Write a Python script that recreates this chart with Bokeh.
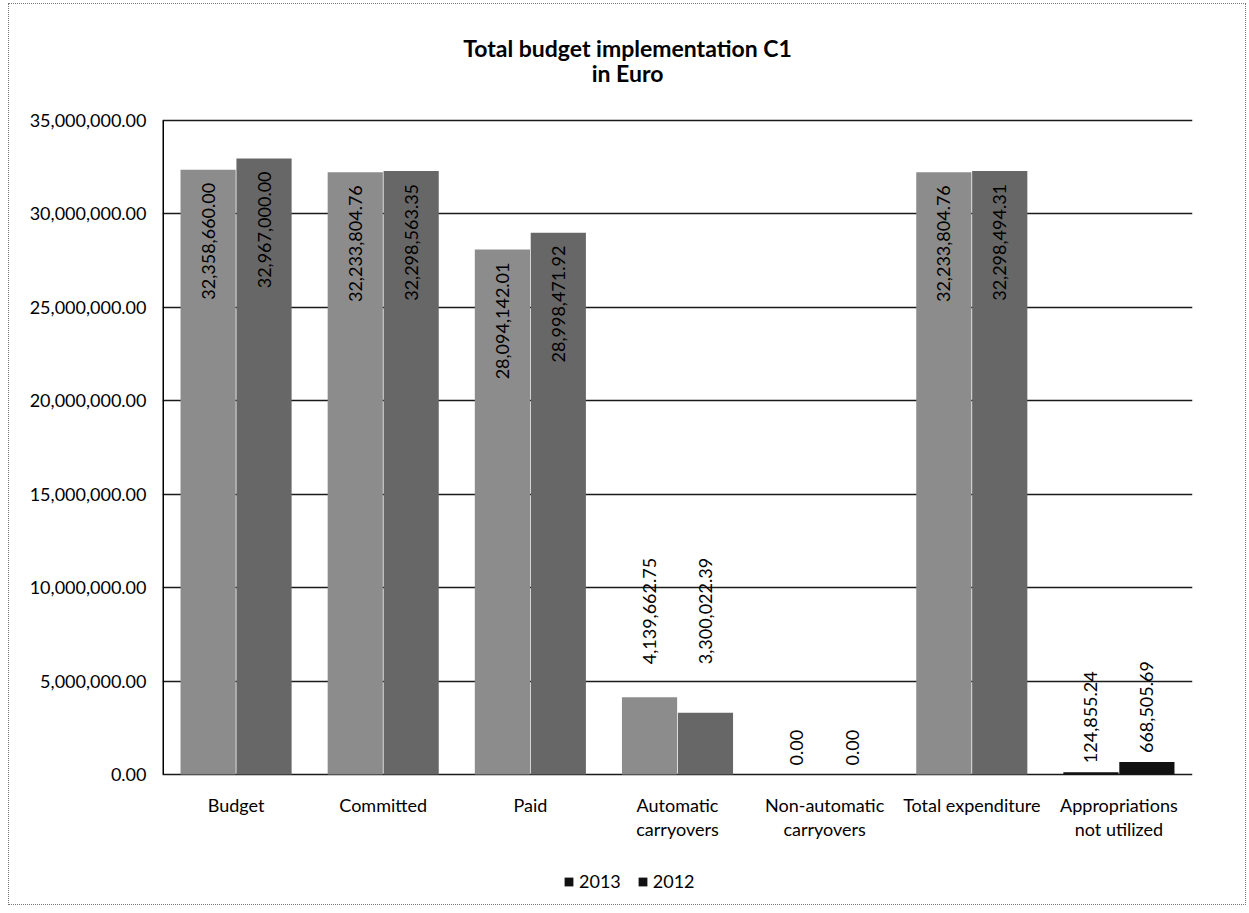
import math
from bokeh.plotting import figure
from bokeh.models import (ColumnDataSource, FactorRange, Range1d, FixedTicker,
                          NumeralTickFormatter, Legend, LegendItem, Label)
from bokeh.transform import dodge
from bokeh.core.properties import value
from bokeh.embed import file_html
from bokeh.resources import INLINE

# ---- data ----
categories = ["Budget", "Committed", "Paid", "Automatic carryovers",
              "Non-automatic carryovers", "Total expenditure",
              "Appropriations not utilized"]
values_2013 = [32358660.00, 32233804.76, 28094142.01, 4139662.75, 0.00,
               32233804.76, 124855.24]
values_2012 = [32967000.00, 32298563.35, 28998471.92, 3300022.39, 0.00,
               32298494.31, 668505.69]
label_2013 = ["32,358,660.00", "32,233,804.76", "28,094,142.01", "4,139,662.75",
              "0.00", "32,233,804.76", "124,855.24"]
label_2012 = ["32,967,000.00", "32,298,563.35", "28,998,471.92", "3,300,022.39",
              "0.00", "32,298,494.31", "668,505.69"]
y_ticks = [0, 5e6, 10e6, 15e6, 20e6, 25e6, 30e6, 35e6]
series = ["2013", "2012"]
axis_labels = {
    "Automatic carryovers": "Automatic\ncarryovers",
    "Non-automatic carryovers": "Non-automatic\ncarryovers",
    "Appropriations not utilized": "Appropriations\nnot utilized",
}
title_lines = ["Total budget implementation C1", "in Euro"]

# ---- layout / style ----
FONT = "Lato"
C2013 = "#8c8c8c"
C2012 = "#676767"
HIGHLIGHT = "#111111"
special = "Appropriations not utilized"
moved_labels = {"Automatic carryovers": 5.9e6}  # labels set apart from bars

FRAME_W, FRAME_H = 1030, 900      # drawing area (whole card height)
AXIS_H = 654                      # pixel height of the 0..35M value axis
GAP_TOP, GAP_BOTTOM = 116, 130    # card space above / below the value axis
px_per_unit = AXIS_H / (y_ticks[-1] - y_ticks[0])
y_start = y_ticks[0] - GAP_BOTTOM / px_per_unit
y_end = y_ticks[-1] + GAP_TOP / px_per_unit

p = figure(x_range=FactorRange(*categories), y_range=Range1d(y_start, y_end),
           frame_width=FRAME_W, frame_height=FRAME_H, output_backend="svg",
           toolbar_location=None, x_axis_location=None, title_location=None,
           min_border_left=153, min_border_right=53, min_border_top=0,
           min_border_bottom=0)
p.margin = (3, 3, 7, 8)
p.styles = {"border": "1px dotted #777"}

offset = 0.19
bar_w = 0.375


def build(vals, labels, base_color):
    colors = [HIGHLIGHT if c == special else base_color for c in categories]
    ly, yoff, align = [], [], []
    for c, v in zip(categories, vals):
        if c in moved_labels:
            ly.append(moved_labels[c]); yoff.append(0); align.append("left")
        elif v > 20e6:
            ly.append(v); yoff.append(13); align.append("right")
        else:
            ly.append(v); yoff.append(-9); align.append("left")
    return ColumnDataSource(dict(cat=categories, val=vals, lab=labels,
                                 color=colors, ly=ly, yoff=yoff, align=align))


src13 = build(values_2013, label_2013, C2013)
src12 = build(values_2012, label_2012, C2012)

bars = []
for src, off in ((src13, -offset), (src12, offset)):
    xs = dodge("cat", off, range=p.x_range)
    bars.append(p.vbar(x=xs, top="val", width=bar_w, source=src,
                       fill_color="color", line_color=None))
    p.text(x=xs, y="ly", text="lab", source=src, angle=math.pi / 2,
           y_offset="yoff", text_align="align", text_baseline="middle",
           text_font=value(FONT), text_font_size="18px", text_color="black")

# value axis line (from 0 to the top tick) at the left edge of the categories
p.segment(x0=[0], y0=[y_ticks[0]], x1=[0], y1=[y_ticks[-1]],
          line_color="black", line_width=3)

# category names under the baseline (two lines where needed)
line1 = [axis_labels.get(c, c).split("\n")[0] for c in categories]
line2 = [(axis_labels.get(c, c).split("\n") + [""])[1] for c in categories]
cat_src = ColumnDataSource(dict(cat=categories, base=[y_ticks[0]] * len(categories),
                                l1=line1, l2=line2))
for col, yo in (("l1", 30), ("l2", 54)):
    p.text(x="cat", y="base", text=col, source=cat_src, y_offset=yo,
           text_align="center", text_baseline="middle",
           text_font=value(FONT), text_font_size="18px", text_color="black")

# title (screen units from the drawing area's bottom-left)
for txt, ty in ((title_lines[0], 857), (title_lines[1], 832)):
    p.add_layout(Label(x=465, y=ty, x_units="screen", y_units="screen",
                       text=txt, text_align="center", text_baseline="middle",
                       text_font=FONT, text_font_size="23px",
                       text_font_style="bold", text_color="black"))

# legend: squares drawn like the highlighted (dark) bars
legend = Legend(items=[LegendItem(label=series[0], renderers=[bars[0]], index=6),
                       LegendItem(label=series[1], renderers=[bars[1]], index=6)],
                orientation="horizontal", location=(401, 12),
                border_line_color=None, background_fill_alpha=0,
                label_text_font=FONT, label_text_font_size="18px",
                label_text_color="black",
                glyph_width=11, glyph_height=11, spacing=16, label_standoff=5,
                margin=0, padding=4)
p.add_layout(legend, "center")

# y axis
p.yaxis.ticker = FixedTicker(ticks=y_ticks)
p.yaxis.formatter = NumeralTickFormatter(format="0,0.00")
p.yaxis.major_label_text_font = FONT
p.yaxis.major_label_text_font_size = "18px"
p.yaxis.major_label_text_color = "black"
p.yaxis.major_tick_in = 0
p.yaxis.major_tick_out = 0
p.yaxis.minor_tick_line_color = None
p.yaxis.major_label_standoff = 16
p.yaxis.axis_line_color = None

p.xgrid.grid_line_color = None
p.ygrid.grid_line_color = "#1a1a1a"
p.ygrid.grid_line_width = 1.4
p.outline_line_color = None

open("out.html", "w").write(file_html(p, INLINE))
